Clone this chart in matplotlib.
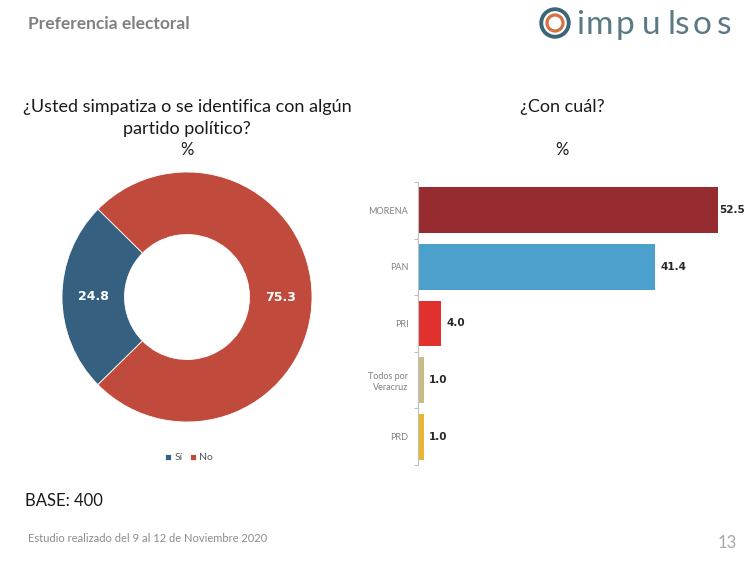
import matplotlib
matplotlib.use("Agg")
import matplotlib.pyplot as plt
from matplotlib.patches import Circle
import numpy as np

# ---- data ----
pie_labels = ["Sí", "No"]
pie_values = [24.8, 75.3]
pie_colors = ["#35607f", "#c04a3b"]

bar_labels = ["MORENA", "PAN", "PRI", "Todos por\nVeracruz", "PRD"]
bar_values = [52.5, 41.4, 4.0, 1.0, 1.0]
bar_colors = ["#962c30", "#4ba0cc", "#e0312f", "#c4bd84", "#e8b630"]

W, H = 750, 562
FONT = "Lato"
plt.rcParams["font.family"] = [FONT, "DejaVu Sans"]

fig = plt.figure(figsize=(W / 100, H / 100), dpi=100)
fig.patch.set_facecolor("white")

def fx(x):
    return x / W

def fy(y):
    return 1 - y / H

def px_axes(l, t, r, b):
    return fig.add_axes([fx(l), fy(b), (r - l) / W, (b - t) / H])

# ---- header ----
fig.text(fx(28), fy(24), "Preferencia electoral", fontsize=12.5, fontweight="bold",
         color="#808080", va="center", ha="left")

# logo
lax = px_axes(539, 7, 571, 39)
lax.set_xlim(-1, 1); lax.set_ylim(-1, 1); lax.set_aspect("equal"); lax.axis("off")
lax.add_patch(Circle((0, 0), 0.86, fill=False, lw=2.8, ec="#3d6578"))
lax.add_patch(Circle((0, 0), 0.5, fill=False, lw=2.3, ec="#d3713f"))
logo_word = "impulsos"
logo_x = [576, 586, 616, 642, 667, 675, 693, 717]
for ch, xx in zip(logo_word, logo_x):
    fig.text(fx(xx), fy(34), ch, fontsize=24, color="#5a7985",
             va="baseline", ha="left", fontweight="normal")

# ---- titles ----
fig.text(fx(187), fy(107), "¿Usted simpatiza o se identifica con algún",
         fontsize=13, color="#1a1a1a", ha="center", va="center")
fig.text(fx(187), fy(129), "partido político?", fontsize=13, color="#1a1a1a",
         ha="center", va="center")
fig.text(fx(187), fy(150), "%", fontsize=12, color="#1a1a1a", ha="center", va="center")
fig.text(fx(562), fy(107), "¿Con cuál?", fontsize=13, color="#1a1a1a",
         ha="center", va="center")
fig.text(fx(562), fy(150), "%", fontsize=12, color="#1a1a1a", ha="center", va="center")

# ---- donut ----
pax = px_axes(62, 172, 312, 422)
start = 180 - pie_values[0] * 3.6 / 2
wedges, _ = pax.pie(pie_values, colors=pie_colors, startangle=start, counterclock=True,
                    radius=1, wedgeprops=dict(width=0.5, edgecolor="white", linewidth=0.6))
tot = sum(pie_values)
ang = start
for v in pie_values:
    mid = np.deg2rad(ang + v / tot * 360 / 2)
    pax.text(0.75 * np.cos(mid), 0.75 * np.sin(mid), f"{v:.1f}", color="white",
             fontsize=9, fontweight="bold", ha="center", va="center",
             family=["DejaVu Sans"])
    ang += v / tot * 360
pax.set_xlim(-1, 1); pax.set_ylim(-1, 1); pax.set_aspect("equal")

fig.legend(wedges, pie_labels, loc="center", bbox_to_anchor=(fx(189), fy(458)),
           ncol=2, frameon=False, fontsize=7.5, handlelength=0.6, handleheight=0.6,
           handletextpad=0.3, columnspacing=0.7, labelcolor="#595959")

# ---- bars ----
bax = px_axes(418, 182, 745, 465)
y = np.arange(len(bar_values))
bars = bax.barh(y, bar_values, height=0.81, color=bar_colors)
bax.set_ylim(len(bar_values) - 0.5, -0.5)
bax.set_xlim(0, 327 / (300 / 52.5))
bax.set_yticks(y)
bax.set_yticklabels(bar_labels, fontsize=6.5, color="#808080", linespacing=1.2)
bax.set_yticks(np.arange(-0.5, len(bar_values)), minor=True)
bax.tick_params(axis="y", which="major", length=0, pad=7)
bax.tick_params(axis="y", which="minor", length=3, color="#bfbfbf", width=0.8)
bax.set_xticks([])
for s in ["top", "right", "bottom"]:
    bax.spines[s].set_visible(False)
bax.spines["left"].set_color("#bfbfbf")
bax.spines["left"].set_linewidth(0.8)
for b, v in zip(bars, bar_values):
    bax.annotate(f"{v:.1f}", (b.get_width(), b.get_y() + b.get_height() / 2),
                 xytext=(4 if v < 50 else 1, 0), textcoords="offset points",
                 ha="left", va="center", fontsize=7.5, fontweight="bold",
                 color="#262626", family=["DejaVu Sans"])

# ---- footer ----
fig.text(fx(25), fy(501), "BASE: 400", fontsize=12, color="#1a1a1a", ha="left", va="center")
fig.text(fx(28), fy(539), "Estudio realizado del 9 al 12 de Noviembre 2020", fontsize=8,
         color="#8c8c8c", ha="left", va="center")
fig.text(fx(737), fy(543), "13", fontsize=12, color="#a6a6a6", ha="right", va="center")

fig.savefig("out.png", dpi=100, facecolor="white")
